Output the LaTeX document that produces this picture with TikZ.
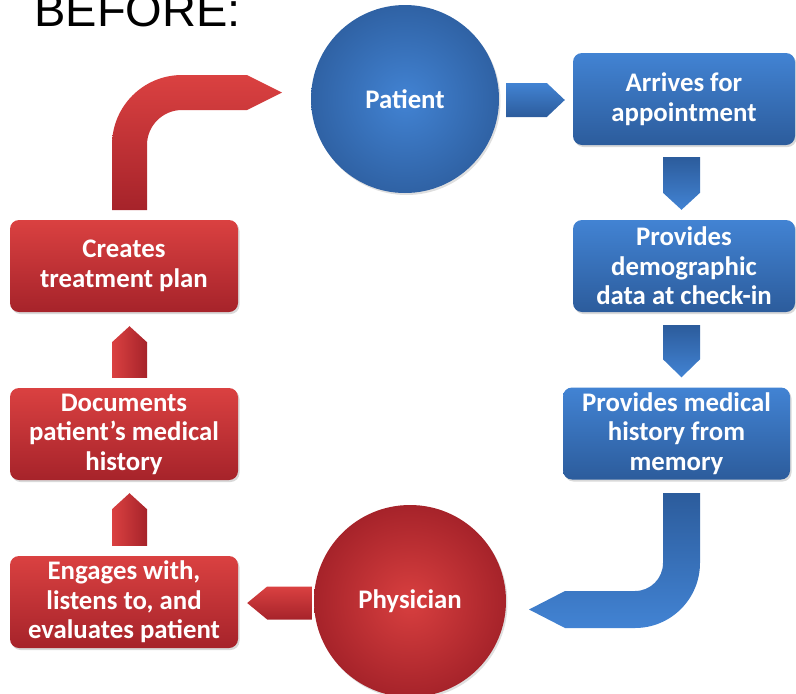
\documentclass[tikz,border=0pt]{standalone}
\usepackage{fontspec}
\newfontfamily\boxfont{Carlito}
\newfontfamily\titlefont{Liberation Sans}
\usetikzlibrary{calc,shadows,backgrounds}
\definecolor{bluetop}{HTML}{4283D3}
\definecolor{bluebot}{HTML}{2C5C9C}
\definecolor{bluemid}{HTML}{3A75C2}
\definecolor{redtop}{HTML}{DA4141}
\definecolor{redbot}{HTML}{A6232A}
\definecolor{redmid}{HTML}{C73030}
\newcommand\blockarrow[5]{%
  \coordinate (hb) at ($(#2)!#4!(#1)$);
  \path[#5] ($(#1)!#3!90:(#2)$) -- ($(hb)!#3!90:(#2)$) -- (#2)
    -- ($(hb)!#3!-90:(#2)$) -- ($(#1)!#3!-90:(#2)$) -- cycle;}
\begin{document}
\begin{tikzpicture}[x=1pt,y=-1pt,
  box/.style={rectangle, rounded corners=9pt, minimum width=228pt, minimum height=92pt,
    inner sep=0pt, align=center, text=white,
    font=\boxfont\bfseries\fontsize{26.8}{29.5}\selectfont,
    drop shadow={shadow xshift=1.5pt, shadow yshift=-2pt, opacity=0.3}},
  bluebox/.style={box, top color=bluetop, bottom color=bluebot},
  redbox/.style={box, top color=redtop, bottom color=redbot},
  circ/.style={circle, inner sep=0pt, text=white,
    font=\boxfont\bfseries\fontsize{26.8}{29.5}\selectfont,
    drop shadow={shadow xshift=1.5pt, shadow yshift=-2pt, opacity=0.25}},
  bluecirc/.style={circ, inner color=bluetop, outer color=bluebot!85!bluetop},
  redcirc/.style={circ, inner color=redtop!90!redmid, outer color=redbot},
  bluearrowv/.style={top color=bluebot, bottom color=bluetop},
  bluearrowh/.style={top color=bluetop, bottom color=bluebot},
  redarrowv/.style={left color=redtop, right color=redbot},
  redarrowh/.style={top color=redtop, bottom color=redbot}
]
\useasboundingbox (0,0) rectangle (796,694);

\node[anchor=base west, font=\titlefont\fontsize{47}{50}\selectfont] (title) at (31,26) {BEFORE:};

\node[bluecirc, minimum size=188pt] (patient) at (405,99) {Patient};
\node[bluebox, minimum width=222pt] (arrives) at (684,99) {Arrives for\\appointment};
\node[bluebox, minimum width=222pt] (demog) at (684,266) {Provides\\demographic\\data at check-in};
\node[bluebox, minimum width=227pt] (medical) at (676.5,433.5) {Provides medical\\history from\\memory};
\node[redcirc, minimum size=192pt] (physician) at (410,601) {Physician};
\node[redbox] (engages) at (124,602) {Engages with,\\listens to, and\\evaluates patient};
\node[redbox] (documents) at (124,434) {Documents\\patient’s medical\\history};
\node[redbox] (creates) at (124,266) {Creates\\treatment plan};

\begin{scope}[on background layer]
  \coordinate (a1s) at ($(patient.east)+(7,1)$);
  \coordinate (a1t) at ($(arrives.west)+(-8,1)$);
  \blockarrow{a1s}{a1t}{17pt}{18pt}{bluearrowh}
  \coordinate (a2s) at ($(arrives.south)+(-2.5,12)$);
  \coordinate (a2t) at ($(demog.north)+(-2.5,-10)$);
  \blockarrow{a2s}{a2t}{18.5pt}{17pt}{bluearrowv}
  \coordinate (a3s) at ($(demog.south)+(-2.5,13)$);
  \coordinate (a3t) at ($(medical.north)+(5,-10)$);
  \blockarrow{a3s}{a3t}{18.5pt}{18pt}{bluearrowv}
  \coordinate (a4s) at ($(physician.west)+(-2,2)$);
  \coordinate (a4t) at ($(engages.east)+(9,1)$);
  \blockarrow{a4s}{a4t}{16.5pt}{20pt}{redarrowh}
  \coordinate (a5s) at ($(engages.north)+(5.5,-10)$);
  \coordinate (a5t) at ($(documents.south)+(5.5,13)$);
  \blockarrow{a5s}{a5t}{17.5pt}{16pt}{redarrowv}
  \coordinate (a6s) at ($(documents.north)+(5.5,-10)$);
  \coordinate (a6t) at ($(creates.south)+(5.5,14)$);
  \blockarrow{a6s}{a6t}{17.5pt}{16pt}{redarrowv}
\end{scope}

% bent red arrow: creates -> patient
\path[top color=redtop, bottom color=redbot]
  (112,210) -- (112,145) .. controls (112,106.3) and (143.3,75) .. (182,75)
  -- (247,75) -- (282,92.5) -- (247,110) -- (182,110)
  .. controls (162.7,110) and (147,125.7) .. (147,145) -- (147,210) -- cycle;

% bent blue arrow: medical -> physician
\path[top color=bluebot, bottom color=bluetop]
  (663,493) -- (700,493) -- (700,563) .. controls (700,598.9) and (670.9,628) .. (635,628)
  -- (565,628) -- (529,609.5) -- (565,591) -- (635,591)
  .. controls (650.5,591) and (663,578.5) .. (663,563) -- cycle;
\end{tikzpicture}
\end{document}
